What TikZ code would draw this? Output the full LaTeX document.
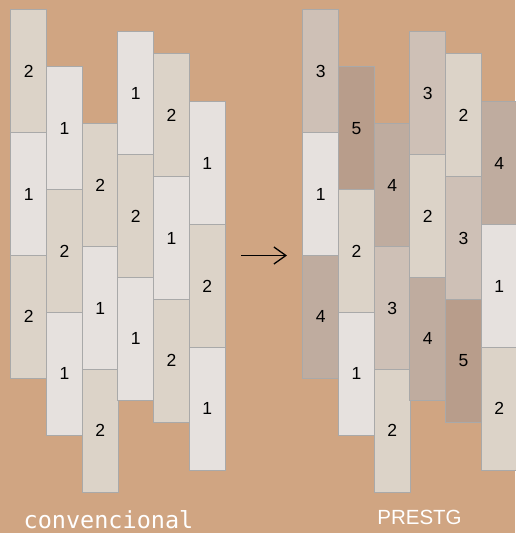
\documentclass[tikz,border=0pt]{standalone}
\usepackage{fontspec}
\setmainfont{Liberation Sans}
\newfontfamily\codefont{DejaVu Sans Mono}
\usepackage{tikz}
\usetikzlibrary{positioning,arrows.meta}

\definecolor{bgtan}{HTML}{D0A582}
\definecolor{tileA}{HTML}{E6E1DE}
\definecolor{tileB}{HTML}{DCD3C8}
\definecolor{tileC}{HTML}{CEC0B6}
\definecolor{tileD}{HTML}{BFAC9F}
\definecolor{tileE}{HTML}{B89D8B}
\definecolor{edgegray}{HTML}{A9A9A9}

\begin{document}
\begin{tikzpicture}[x = 1pt, y = -1pt, node distance = 122.67pt, on grid,
   tile/.style = {draw = edgegray, line width = 1pt, inner sep = 0pt,
     minimum width = 35.67pt, minimum height = 122.67pt,
     font = \fontsize{17.5}{20}\selectfont},
   t1/.style = {tile, fill = tileA},
   t2/.style = {tile, fill = tileB},
   t3/.style = {tile, fill = tileC},
   t4/.style = {tile, fill = tileD},
   t5/.style = {tile, fill = tileE}]
   \path[use as bounding box, fill = bgtan] (0,0) rectangle (515,533);
   % convencional
   \node[t2] (l_0) at (28.83,71.33) {2};
   \node[t1] (l_1) [below = of l_0] {1};
   \node[t2] (l_2) [below = of l_1] {2};
   \node[t1] (l_3) at (64.5,128.33) {1};
   \node[t2] (l_4) [below = of l_3] {2};
   \node[t1] (l_5) [below = of l_4] {1};
   \node[t2] (l_6) at (100.17,185.33) {2};
   \node[t1] (l_7) [below = of l_6] {1};
   \node[t2] (l_8) [below = of l_7] {2};
   \node[t1] (l_9) at (135.83,93.33) {1};
   \node[t2] (l_10) [below = of l_9] {2};
   \node[t1] (l_11) [below = of l_10] {1};
   \node[t2] (l_12) at (171.5,115.33) {2};
   \node[t1] (l_13) [below = of l_12] {1};
   \node[t2] (l_14) [below = of l_13] {2};
   \node[t1] (l_15) at (207.17,163.33) {1};
   \node[t2] (l_16) [below = of l_15] {2};
   \node[t1] (l_17) [below = of l_16] {1};
   % PRESTG
   \node[t3] (r_0) at (320.83,71.33) {3};
   \node[t1] (r_1) [below = of r_0] {1};
   \node[t4] (r_2) [below = of r_1] {4};
   \node[t5] (r_3) at (356.5,128.33) {5};
   \node[t2] (r_4) [below = of r_3] {2};
   \node[t1] (r_5) [below = of r_4] {1};
   \node[t4] (r_6) at (392.17,185.33) {4};
   \node[t3] (r_7) [below = of r_6] {3};
   \node[t2] (r_8) [below = of r_7] {2};
   \node[t3] (r_9) at (427.83,93.33) {3};
   \node[t2] (r_10) [below = of r_9] {2};
   \node[t4] (r_11) [below = of r_10] {4};
   \node[t2] (r_12) at (463.5,115.33) {2};
   \node[t3] (r_13) [below = of r_12] {3};
   \node[t5] (r_14) [below = of r_13] {5};
   \node[t4] (r_15) at (499.17,163.33) {4};
   \node[t1] (r_16) [below = of r_15] {1};
   \node[t2] (r_17) [below = of r_16] {2};
   % arrow and captions
   \coordinate (arr_s) at (241,255.5);
   \coordinate (arr_e) at (287,255.5);
   \draw[-{Straight Barb[length = 12pt, width = 17pt]}, line width = 1.3pt]
     (arr_s) -- (arr_e);
   \node[anchor = base, text = white, inner sep = 0pt, text depth = 0pt,
     font = \codefont\fontsize{23.5}{26}\selectfont]
     (cap_l) at (108.5,528.5) {convencional};
   \node[anchor = base, text = white, inner sep = 0pt, text depth = 0pt,
     font = \fontsize{20.5}{24}\selectfont]
     (cap_r) at (419.5,524) {PRESTG};
\end{tikzpicture}
\end{document}
